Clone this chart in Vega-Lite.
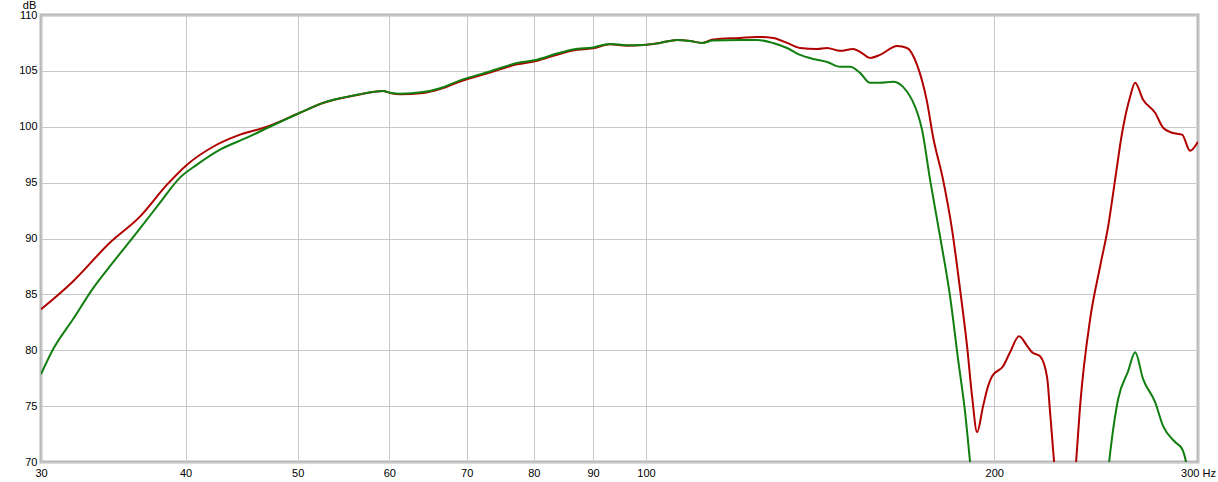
{
  "$schema": "https://vega.github.io/schema/vega-lite/v6.json",
  "width": 1157,
  "height": 447,
  "autosize": "none",
  "padding": {"left": 41, "top": 15, "right": 20, "bottom": 20},
  "background": "#ffffff",
  "config": {
    "view": {"stroke": "#b8b8b8", "strokeWidth": 3},
    "font": "Liberation Sans",
    "axis": {
      "labelFont": "Liberation Sans",
      "labelFontSize": 11,
      "labelColor": "#000000",
      "gridColor": "#c8c8c8",
      "gridWidth": 1,
      "domain": false,
      "ticks": false
    }
  },
  "datasets": {
    "red": [
      {"f": 30.00, "db": 83.66}, {"f": 31.97, "db": 86.16}, {"f": 34.42, "db": 89.64},
      {"f": 36.53, "db": 91.96}, {"f": 38.55, "db": 94.82}, {"f": 40.12, "db": 96.61},
      {"f": 42.25, "db": 98.21}, {"f": 44.58, "db": 99.29}, {"f": 47.04, "db": 100.0},
      {"f": 50.23, "db": 101.25}, {"f": 52.58, "db": 102.12}, {"f": 56.28, "db": 102.84},
      {"f": 59.26, "db": 103.19}, {"f": 60.10, "db": 103.02}, {"f": 61.30, "db": 102.9},
      {"f": 64.17, "db": 103.02}, {"f": 66.38, "db": 103.37}, {"f": 69.08, "db": 104.05},
      {"f": 73.32, "db": 104.85}, {"f": 77.36, "db": 105.58}, {"f": 80.51, "db": 105.9},
      {"f": 83.77, "db": 106.45}, {"f": 86.48, "db": 106.82}, {"f": 90.00, "db": 107.02},
      {"f": 93.09, "db": 107.38}, {"f": 96.30, "db": 107.25}, {"f": 99.41, "db": 107.32},
      {"f": 102.83, "db": 107.5}, {"f": 106.37, "db": 107.77}, {"f": 109.16, "db": 107.68},
      {"f": 111.80, "db": 107.5}, {"f": 114.28, "db": 107.8}, {"f": 120.59, "db": 107.95},
      {"f": 124.73, "db": 108.04}, {"f": 128.77, "db": 107.95}, {"f": 132.41, "db": 107.5},
      {"f": 135.88, "db": 107.05}, {"f": 140.56, "db": 106.96}, {"f": 143.39, "db": 107.05},
      {"f": 147.15, "db": 106.79}, {"f": 151.00, "db": 106.96}, {"f": 153.12, "db": 106.7},
      {"f": 156.20, "db": 106.16}, {"f": 159.34, "db": 106.43}, {"f": 164.82, "db": 107.23},
      {"f": 168.13, "db": 107.05}, {"f": 171.51, "db": 105.54}, {"f": 174.96, "db": 102.23},
      {"f": 177.06, "db": 99.11}, {"f": 180.62, "db": 95.27}, {"f": 183.89, "db": 90.8},
      {"f": 186.84, "db": 85.45}, {"f": 189.46, "db": 80.36}, {"f": 191.36, "db": 75.89},
      {"f": 193.27, "db": 72.68}, {"f": 195.60, "db": 75.0}, {"f": 197.55, "db": 76.79},
      {"f": 199.13, "db": 77.68}, {"f": 203.54, "db": 78.57}, {"f": 206.39, "db": 79.82},
      {"f": 210.12, "db": 81.25}, {"f": 213.50, "db": 80.4}, {"f": 215.63, "db": 79.82},
      {"f": 219.10, "db": 79.46}, {"f": 222.17, "db": 77.6}, {"f": 223.50, "db": 74.46},
      {"f": 225.29, "db": 70.0}, {"f": 228.00, "db": 64.0}, {"f": 232.58, "db": 64.0},
      {"f": 235.37, "db": 70.0}, {"f": 237.25, "db": 75.0}, {"f": 242.03, "db": 82.77},
      {"f": 246.89, "db": 87.5}, {"f": 250.86, "db": 91.07}, {"f": 254.38, "db": 95.27},
      {"f": 257.95, "db": 99.46}, {"f": 262.09, "db": 102.68}, {"f": 264.71, "db": 103.93},
      {"f": 268.96, "db": 102.41}, {"f": 275.46, "db": 101.25}, {"f": 279.89, "db": 99.91},
      {"f": 284.95, "db": 99.46}, {"f": 290.67, "db": 99.29}, {"f": 295.27, "db": 97.86},
      {"f": 300.00, "db": 98.66}
    ],
    "green": [
      {"f": 30.00, "db": 77.86}, {"f": 30.73, "db": 80.09}, {"f": 31.97, "db": 82.77},
      {"f": 33.27, "db": 85.54}, {"f": 34.62, "db": 87.86}, {"f": 36.31, "db": 90.54},
      {"f": 38.02, "db": 93.21}, {"f": 39.56, "db": 95.45}, {"f": 40.92, "db": 96.61},
      {"f": 42.84, "db": 97.95}, {"f": 45.20, "db": 99.02}, {"f": 47.32, "db": 100.0},
      {"f": 50.23, "db": 101.25}, {"f": 52.58, "db": 102.14}, {"f": 56.28, "db": 102.86},
      {"f": 59.26, "db": 103.21}, {"f": 60.10, "db": 103.04}, {"f": 61.30, "db": 102.95},
      {"f": 64.17, "db": 103.1}, {"f": 66.38, "db": 103.45}, {"f": 69.08, "db": 104.15},
      {"f": 73.32, "db": 104.95}, {"f": 77.36, "db": 105.7}, {"f": 80.51, "db": 106.0},
      {"f": 83.77, "db": 106.55}, {"f": 86.48, "db": 106.92}, {"f": 90.00, "db": 107.1},
      {"f": 93.09, "db": 107.41}, {"f": 96.30, "db": 107.3}, {"f": 99.41, "db": 107.32},
      {"f": 102.83, "db": 107.5}, {"f": 106.37, "db": 107.77}, {"f": 109.16, "db": 107.68},
      {"f": 111.80, "db": 107.5}, {"f": 114.28, "db": 107.72}, {"f": 120.59, "db": 107.77},
      {"f": 124.73, "db": 107.77}, {"f": 128.77, "db": 107.5}, {"f": 132.41, "db": 107.05},
      {"f": 135.88, "db": 106.43}, {"f": 139.45, "db": 106.07}, {"f": 143.39, "db": 105.8},
      {"f": 147.15, "db": 105.36}, {"f": 150.10, "db": 105.36}, {"f": 153.12, "db": 104.82},
      {"f": 156.20, "db": 103.93}, {"f": 159.34, "db": 103.93}, {"f": 163.51, "db": 104.02},
      {"f": 166.80, "db": 103.57}, {"f": 169.81, "db": 102.41}, {"f": 171.85, "db": 101.07},
      {"f": 173.22, "db": 99.73}, {"f": 176.01, "db": 95.27}, {"f": 179.55, "db": 90.18},
      {"f": 183.16, "db": 84.82}, {"f": 186.10, "db": 79.2}, {"f": 188.71, "db": 74.46},
      {"f": 190.60, "db": 70.0}, {"f": 194.43, "db": 61.3}, {"f": 246.89, "db": 61.3},
      {"f": 251.36, "db": 70.0}, {"f": 255.90, "db": 75.62}, {"f": 261.05, "db": 78.12},
      {"f": 264.71, "db": 79.82}, {"f": 268.96, "db": 77.41}, {"f": 275.46, "db": 75.36},
      {"f": 279.89, "db": 73.21}, {"f": 286.65, "db": 71.79}, {"f": 290.67, "db": 71.16},
      {"f": 292.92, "db": 70.0}, {"f": 295.27, "db": 67.6}
    ]
  },
  "encoding": {
    "x": {
      "field": "f", "type": "quantitative",
      "scale": {"type": "log", "domain": [30, 300], "nice": false},
      "axis": {
        "title": null,
        "values": [30, 40, 50, 60, 70, 80, 90, 100, 200, 300],
        "labelExpr": "datum.value == 300 ? '300 Hz' : datum.label",
        "labelPadding": 5,
        "labelFlush": false,
        "labelOverlap": false
      }
    },
    "y": {
      "field": "db", "type": "quantitative",
      "scale": {"domain": [70, 110], "nice": false, "zero": false},
      "axis": {
        "title": "dB",
        "titleAngle": 0,
        "titleX": -12,
        "titleY": -5,
        "titleAlign": "center",
        "titleBaseline": "bottom",
        "titleFont": "Liberation Sans",
        "titleFontSize": 11,
        "titleFontWeight": "normal",
        "titleColor": "#000000",
        "values": [70, 75, 80, 85, 90, 95, 100, 105, 110],
        "labelPadding": 4,
        "labelFlush": false,
        "labelOverlap": false
      }
    }
  },
  "layer": [
    {
      "data": {"name": "red"},
      "mark": {"type": "line", "color": "#b00000", "strokeWidth": 2, "interpolate": "monotone", "clip": true}
    },
    {
      "data": {"name": "green"},
      "mark": {"type": "line", "color": "#107f10", "strokeWidth": 2, "interpolate": "monotone", "clip": true}
    }
  ]
}
